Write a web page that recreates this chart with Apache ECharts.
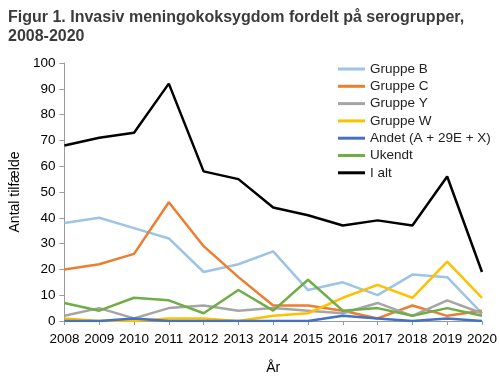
<!DOCTYPE html>
<html><head><meta charset="utf-8">
<script src="https://cdn.jsdelivr.net/npm/echarts@6/dist/echarts.min.js"></script>
<style>html,body{margin:0;padding:0;background:#fff}#c{width:500px;height:380px}</style>
</head><body><div id="c"></div>
<script>
const years = ['2008','2009','2010','2011','2012','2013','2014','2015','2016','2017','2018','2019','2020'];
const gruppeB = [38,40,36,32,19,22,27,12,15,10,18,17,3];
const gruppeC = [20,22,26,46,29,17,6,6,4,1,6,2,4];
const gruppeY = [2,5,1,5,6,4,5,4,3,7,2,8,3];
const gruppeW = [1,0,0,1,1,0,2,3,9,14,9,23,9];
const andet = [0,0,1,0,0,0,0,0,2,1,0,1,0];
const ukendt = [7,4,9,8,3,12,4,16,4,5,2,5,2];
const iAlt = [68,71,73,92,58,55,44,41,37,39,37,56,19];
const names = ['Gruppe B','Gruppe C','Gruppe Y','Gruppe W','Andet (A + 29E + X)','Ukendt','I alt'];
const colors = ['#9DC3E6','#ED7D31','#A5A5A5','#FFC000','#4472C4','#70AD47','#000000'];
const data = [gruppeB,gruppeC,gruppeY,gruppeW,andet,ukendt,iAlt];
const font = 'Liberation Sans';
const chart = echarts.init(document.getElementById('c'));
chart.setOption({
  animation:false,
  title:{text:'Figur 1. Invasiv meningokoksygdom fordelt på serogrupper,\n2008-2020',left:3,top:3,
    textStyle:{fontFamily:font,fontSize:16,fontWeight:'bold',color:'#3b3b3b',lineHeight:19}},
  legend:{orient:'vertical',left:333,top:57,itemWidth:27,itemHeight:3,itemGap:3.3,icon:'rect',
    textStyle:{fontFamily:font,fontSize:13.5,color:'#222',lineHeight:14},data:names},
  grid:{left:57,right:15,top:63,bottom:55,containLabel:false},
  xAxis:{type:'category',data:years,boundaryGap:false,
    name:'År',nameLocation:'middle',nameGap:40,nameTextStyle:{fontFamily:font,fontSize:14,color:'#000'},
    axisLine:{lineStyle:{color:'#999'}},axisTick:{show:true,length:4,lineStyle:{color:'#999'}},
    axisLabel:{fontFamily:font,fontSize:13.5,color:'#000',margin:11,interval:0}},
  yAxis:{type:'value',min:0,max:100,interval:10,
    name:'Antal tilfælde',nameLocation:'middle',nameGap:36,nameRotate:90,nameTextStyle:{fontFamily:font,fontSize:14,color:'#000'},
    axisLine:{show:true,lineStyle:{color:'#999'}},axisTick:{show:true,length:5,lineStyle:{color:'#999'}},
    splitLine:{show:false},axisLabel:{fontFamily:font,fontSize:13.5,color:'#000',margin:9}},
  series:names.map((n,i)=>({name:n,type:'line',data:data[i],symbol:'none',
    lineStyle:{width:2.5,color:colors[i]},itemStyle:{color:colors[i]},z:i}))
});
</script></body></html>
